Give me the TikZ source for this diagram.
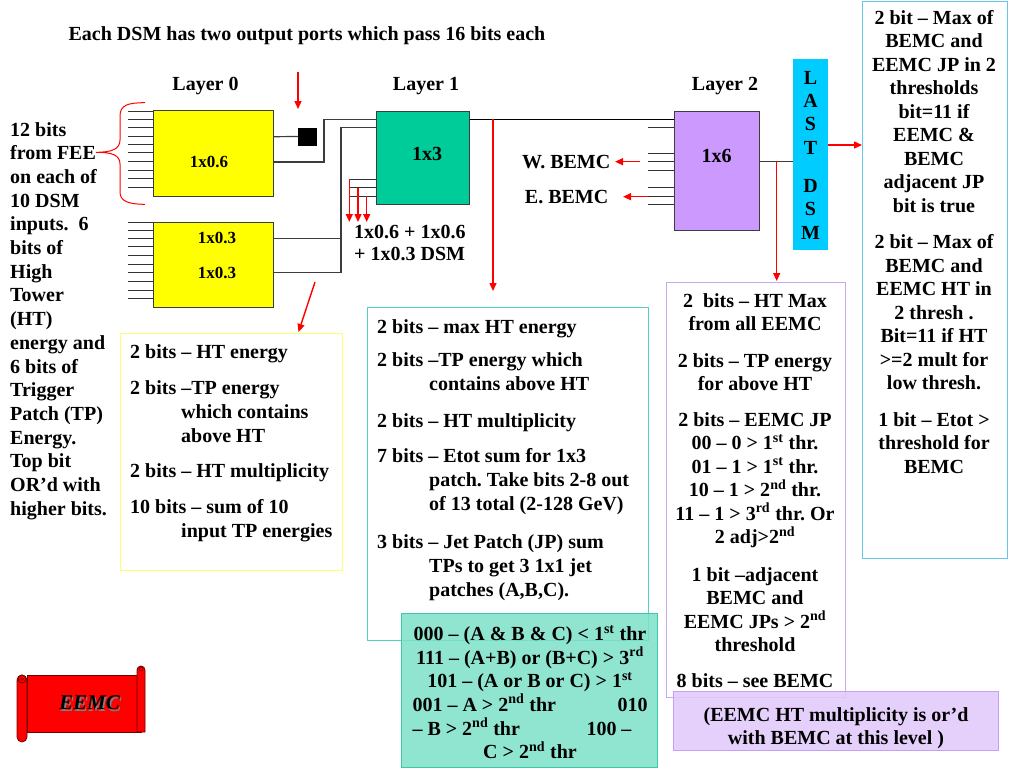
\documentclass[tikz,border=0pt]{standalone}
\usepackage{fontspec}
\setmainfont{Liberation Serif}
\usetikzlibrary{arrows.meta}
\frenchspacing
\definecolor{dsmyellow}{RGB}{255,255,0}
\definecolor{dsmgreen}{RGB}{0,204,153}
\definecolor{dsmpurple}{RGB}{204,153,255}
\definecolor{lastcyan}{RGB}{0,204,255}
\definecolor{boxyellow}{RGB}{255,255,110}
\definecolor{boxteal}{RGB}{80,210,190}
\definecolor{boxlav}{RGB}{200,170,240}
\definecolor{boxblue}{RGB}{100,200,235}
\definecolor{greenfill}{RGB}{125,225,200}
\definecolor{greenedge}{RGB}{60,200,170}
\definecolor{lavfill}{RGB}{225,200,250}
\definecolor{lavedge}{RGB}{195,160,240}
\definecolor{wiregray}{RGB}{60,60,60}
\definecolor{scrolledge}{RGB}{110,0,0}
\begin{document}
\begin{tikzpicture}[x=1pt,y=-1pt,
  dsm/.style={draw=wiregray, line width=1pt, anchor=north west, inner sep=0pt},
  wire/.style={draw=wiregray, line width=1.2pt},
  stub/.style={draw=black!80, line width=0.9pt},
  redarr/.style={draw=red, line width=1.4pt, -{Triangle[length=8pt,width=7pt]}},
  txt/.style={font=\fontsize{20}{24}\selectfont\bfseries, inner sep=0pt},
  lbl/.style={font=\fontsize{17}{20}\selectfont\bfseries, inner sep=0pt},
  infobox/.style={line width=1pt, anchor=north west, inner sep=0pt},
  scr/.style={fill=red, draw=scrolledge, line width=0.8pt}
]
\useasboundingbox (0,0) rectangle (1024,768);

% information boxes (background)
\node[infobox, draw=boxyellow, minimum width=222pt, minimum height=237pt] (ybox) at (120,333) {};
\node[infobox, draw=boxteal, minimum width=281pt, minimum height=333pt] (tbox) at (367,307) {};
\node[infobox, draw=boxlav, minimum width=179pt, minimum height=415pt] (lbox) at (666,282) {};
\node[infobox, draw=boxblue, minimum width=145pt, minimum height=557pt] (rbox) at (862,1) {};
\node[infobox, draw=greenedge, fill=greenfill, fill opacity=0.85, minimum width=256pt, minimum height=154pt] (gbox) at (401,613) {};
\node[infobox, draw=lavedge, fill=lavfill, fill opacity=0.85, minimum width=325pt, minimum height=59pt] (pbox) at (673,691) {};

% DSM boxes
\node[dsm, fill=dsmyellow, minimum width=120pt, minimum height=86pt] (b06) at (153,110) {};
\node[dsm, fill=dsmyellow, minimum width=120pt, minimum height=85pt] (b03) at (153,222) {};
\node[dsm, fill=dsmgreen, minimum width=93pt, minimum height=93pt] (b13) at (376,111) {};
\node[dsm, fill=dsmpurple, minimum width=85pt, minimum height=119pt] (b16) at (674,111) {};
\node[anchor=north west, fill=lastcyan, minimum width=35pt, minimum height=191pt, inner sep=0pt] (last) at (793,59) {};
\node[draw=black, fill=black, minimum width=18pt, minimum height=17pt, inner sep=0pt] (sq) at (307,136.5) {};

% input stubs
\foreach \y in {111,119.3,127.7,136,144.3,152.7,161.3,170,178.7,187.3}
  \draw[stub] (b06.west |- 0,\y) -- ++(-25,0);
\foreach \y in {222.5,230,238.3,246.7,255.7,264.3,272.7,281.7,290,298.7}
  \draw[stub] (b03.west |- 0,\y) -- ++(-25,0);
\foreach \y in {179.3,187.7,196}
  \draw[stub] (349.3,\y) -- (b13.west |- 0,\y);
\foreach \y in {127.7,153.3,161.7,170,187.7,196,204.3}
  \draw[stub] (b16.west |- 0,\y) -- ++(-26,0);

% wires
\draw[wire] (b06.east |- 0,136.7) -- (sq.west);
\draw[wire] (b06.east |- 0,162) -| (324,119.3) -- (b13.west |- 0,119.3);
\draw[wire] (b03.east |- 0,238.3) -- (341,238.3);
\draw[wire] (b03.east |- 0,272.7) -| (341,127.7) -- (b13.west |- 0,127.7);
\draw[wire, draw=black] (b13.east |- 0,119.3) -- (b16.west |- 0,119.3);
\draw[wire] (b16.east |- 0,161.7) -- (last.west |- 0,161.7);

% red arrows
\coordinate (tarr) at (298,72);
\draw[redarr] (tarr) -- (298,109);
\draw[redarr] (349.3,179.3) -- (349.3,222);
\draw[redarr] (358,187.7) -- (358,222);
\draw[redarr] (366.7,196) -- (366.7,222);
\draw[redarr] (493,119.3) -- (493,291);
\draw[redarr] (776.7,161.7) -- (776.7,281);
\draw[redarr] (last.east |- 0,145) -- (rbox.west |- 0,145);
\draw[redarr] (315,282) -- (298.5,332);
\draw[redarr] (640,161.7) -- (615,161.7);
\draw[redarr] (648,196.7) -- (623,196.7);

% brace
\draw[red, line width=1pt] (145,102.7) .. controls (128,102.7) and (120,105) .. (120,116) -- (120,140) .. controls (120,149) and (112,152.3) .. (96,152.3) .. controls (112,152.3) and (120,155) .. (120,164) -- (120,192) .. controls (120,201) and (128,204.3) .. (145,204.3);

% labels
\node[txt] (title) at (307,36) {Each DSM has two output ports which pass 16 bits each};
\node[txt] (lay0) at (205.5,86) {Layer 0};
\node[txt] (lay1) at (426,86) {Layer 1};
\node[txt] (lay2) at (725,86) {Layer 2};
\node[lbl] (t06) at (209,162) {1x0.6};
\node[lbl] (t03a) at (217,238.3) {1x0.3};
\node[lbl] (t03b) at (217,272.7) {1x0.3};
\node[txt] (t13) at (427,154) {1x3};
\node[txt] (t16) at (716.7,156) {1x6};
\node[txt, anchor=north west, align=left, font=\fontsize{20}{22.5}\selectfont\bfseries] (dsmsum) at (354,224.7) {1x0.6 + 1x0.6\\+ 1x0.3 DSM};
\node[txt, anchor=east] (wb) at (610.5,162) {W. BEMC};
\node[txt, anchor=east] (eb) at (608.5,197) {E. BEMC};
\node[txt, anchor=north, align=center, font=\fontsize{20}{23.3}\selectfont\bfseries] (lastt) at (810.5,71) {L\\A\\S\\T\\[15pt]D\\S\\M};

\node[txt, anchor=north west, align=left, font=\fontsize{20}{23.7}\selectfont\bfseries] (lefttxt) at (10,122)
{12 bits\\from FEE\\on each of\\10 DSM\\inputs.\ \ 6\\bits of\\High\\Tower\\(HT)\\energy and\\6 bits of\\Trigger\\Patch (TP)\\Energy.\\Top bit\\OR’d with\\higher bits.};

\node[txt, anchor=north west, align=left] (ytxt) at (130,344)
{2 bits – HT energy\\[12pt]
2 bits –TP energy\\
\hspace*{51pt}which contains\\
\hspace*{51pt}above HT\\[11pt]
2 bits – HT multiplicity\\[12pt]
10 bits – sum of 10\\
\hspace*{51pt}input TP energies};

\node[txt, anchor=north west, align=left] (ttxt) at (377,319)
{2 bits – max HT energy\\[9pt]
2 bits –TP energy which\\
\hspace*{52pt}contains above HT\\[13pt]
2 bits – HT multiplicity\\[11pt]
7 bits – Etot sum for 1x3\\
\hspace*{52pt}patch. Take bits 2-8 out\\
\hspace*{52pt}of 13 total (2-128 GeV)\\[14pt]
3 bits – Jet Patch (JP) sum\\
\hspace*{52pt}TPs to get 3 1x1 jet\\
\hspace*{52pt}patches (A,B,C).};

\node[txt, anchor=north, align=center, font=\fontsize{20}{23.5}\selectfont\bfseries] (ltxt) at (755,293)
{2\ \ bits – HT Max\\
from all EEMC\\[13pt]
2 bits – TP energy\\
for above HT\\[12pt]
2 bits – EEMC JP\\
00 – 0 > 1\textsuperscript{st} thr.\\
01 – 1 > 1\textsuperscript{st} thr.\\
10 – 1 > 2\textsuperscript{nd} thr.\\
11 – 1 > 3\textsuperscript{rd} thr. Or\\
2 adj>2\textsuperscript{nd}\\[14pt]
1 bit –adjacent\\
BEMC and\\
EEMC JPs > 2\textsuperscript{nd}\\
threshold\\[12pt]
8 bits – see BEMC};

\node[txt, anchor=north, align=center, font=\fontsize{20}{23.5}\selectfont\bfseries] (rtxt) at (934,10)
{2 bit – Max of\\BEMC and\\EEMC JP in 2\\thresholds\\bit=11 if\\EEMC \&\\BEMC\\adjacent JP\\bit is true\\[13pt]
2 bit – Max of\\BEMC and\\EEMC HT in\\2 thresh .\\Bit=11 if HT\\>=2 mult for\\low thresh.\\[13pt]
1 bit – Etot >\\threshold for\\BEMC};

\node[txt, anchor=north, align=center, font=\fontsize{20}{23.6}\selectfont\bfseries] (gtxt) at (530,625)
{000 – (A \& B \& C) < 1\textsuperscript{st} thr\\
111 – (A+B) or (B+C) > 3\textsuperscript{rd}\\
101 – (A or B or C) > 1\textsuperscript{st}\\
\makebox[235pt]{001 – A > 2\textsuperscript{nd} thr\hfill 010}\\
\makebox[235pt][l]{\makebox[219pt]{– B > 2\textsuperscript{nd} thr\hfill 100 –}}\\
C > 2\textsuperscript{nd} thr};

\node[txt, anchor=north, align=center, font=\fontsize{20}{23}\selectfont\bfseries] (ptxt) at (836,707)
{(EEMC HT multiplicity is or’d\\with BEMC at this level )};

% EEMC scroll
\filldraw[scr] (27,675) rectangle (141,732);
\filldraw[scr] (137,732) -- (137,670) arc[start angle=180, end angle=360, radius=4] -- (145,732) -- cycle;
\draw[scrolledge, line width=0.6pt] (141,669) circle[radius=2];
\filldraw[scr, rounded corners=5pt] (17,675) rectangle (27,742);
\filldraw[scr] (22,679) circle[radius=4];
\draw[scrolledge, line width=0.6pt] (22,679) circle[radius=1.5];
\node[font=\fontsize{21}{24}\selectfont\bfseries\itshape, text=gray, inner sep=0pt] (eemcs) at (91,704.5) {EEMC};
\node[font=\fontsize{21}{24}\selectfont\bfseries\itshape, inner sep=0pt] (eemc) at (89.5,703) {EEMC};
\end{tikzpicture}
\end{document}
